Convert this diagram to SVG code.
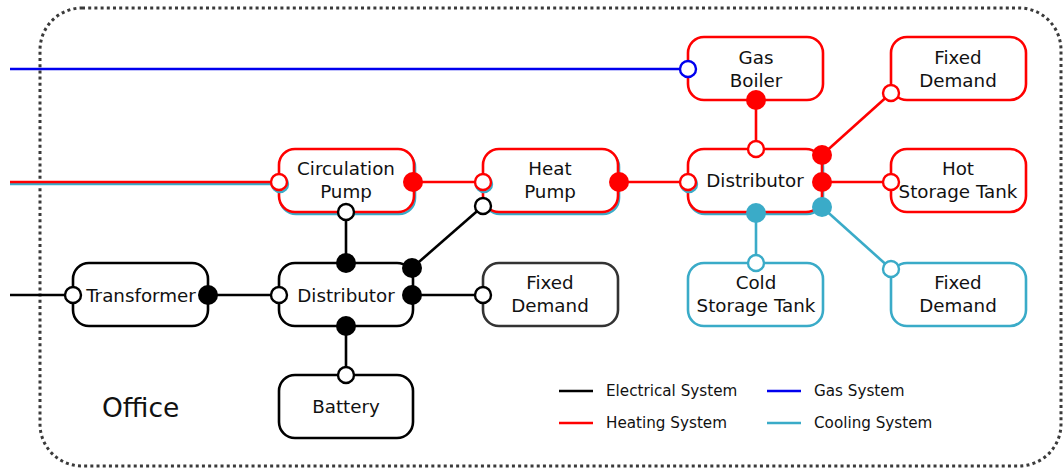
<svg xmlns="http://www.w3.org/2000/svg" width="1064" height="472" viewBox="0 0 1064 472">
<style>
.n{fill:#fff;stroke-width:2.6}
.t{font-family:"DejaVu Sans",sans-serif;font-size:18.3px;fill:#111;text-anchor:middle}
.lg{font-family:"DejaVu Sans",sans-serif;font-size:15.2px;fill:#111}
.e{stroke:#000}.h{stroke:#f00}.g{stroke:#0000ee}.c{stroke:#3aabc8}
.l{stroke-width:2.6;fill:none}
.o{fill:#fff;stroke-width:2.4}
.fe{fill:#000}.fh{fill:#f00}.fc{fill:#3aabc8}
</style>
<rect x="40" y="8" width="1021" height="458" rx="42" fill="none" stroke="#3a3a3a" stroke-width="3" stroke-dasharray="3,3.2"/>
<g id="connectors">
<line class="l g" x1="10" y1="69" x2="688" y2="69"/>
<line class="l c" x1="10" y1="184" x2="279" y2="184"/>
<line class="l h" x1="10" y1="182" x2="279" y2="182"/>
<line class="l h" x1="413" y1="182" x2="483" y2="182"/>
<line class="l h" x1="619" y1="182" x2="688" y2="182"/>
<line class="l h" x1="756" y1="100" x2="756" y2="149"/>
<line class="l h" x1="822" y1="155" x2="891" y2="93"/>
<line class="l h" x1="822" y1="182" x2="891" y2="182"/>
<line class="l c" x1="756" y1="213" x2="756" y2="263"/>
<line class="l c" x1="822" y1="207" x2="891" y2="269"/>
<line class="l e" x1="10" y1="295" x2="73" y2="295"/>
<line class="l e" x1="208" y1="295" x2="279" y2="295"/>
<line class="l e" x1="346" y1="212" x2="346" y2="263"/>
<line class="l e" x1="412" y1="268" x2="483" y2="206"/>
<line class="l e" x1="412" y1="295" x2="483" y2="295"/>
<line class="l e" x1="346" y1="326" x2="346" y2="375"/>
</g>
<g id="gas-boiler"><rect class="n h" x="688" y="37" width="135" height="63" rx="16"/><text class="t" x="756" y="64">Gas</text><text class="t" x="756" y="87">Boiler</text></g>
<g id="fixed-demand-heat"><rect class="n h" x="891" y="37" width="135" height="63" rx="16"/><text class="t" x="958" y="64">Fixed</text><text class="t" x="958" y="87">Demand</text></g>
<g id="circulation-pump"><rect class="n c" x="280" y="151" width="135" height="63" rx="16" fill="none"/><rect class="n h" x="279" y="149" width="135" height="63" rx="16"/><text class="t" x="346" y="175">Circulation</text><text class="t" x="346" y="198">Pump</text></g>
<g id="heat-pump"><rect class="n c" x="484" y="151" width="135" height="63" rx="16"/><rect class="n h" x="483" y="149" width="135" height="63" rx="16"/><text class="t" x="550" y="175">Heat</text><text class="t" x="550" y="198">Pump</text></g>
<g id="distributor-heat"><rect class="n c" x="689" y="151" width="134" height="63" rx="16"/><rect class="n h" x="688" y="149" width="134" height="63" rx="16"/><text class="t" x="755" y="187">Distributor</text></g>
<g id="hot-storage"><rect class="n h" x="891" y="149" width="135" height="63" rx="16"/><text class="t" x="958" y="175">Hot</text><text class="t" x="958" y="198">Storage Tank</text></g>
<g id="transformer"><rect class="n e" x="73" y="263" width="135" height="63" rx="16"/><text class="t" x="141" y="302">Transformer</text></g>
<g id="distributor-elec"><rect class="n e" x="279" y="263" width="134" height="63" rx="16"/><text class="t" x="346" y="302">Distributor</text></g>
<g id="fixed-demand-elec"><rect class="n" stroke="#333" x="483" y="263" width="135" height="63" rx="16"/><text class="t" x="550" y="289">Fixed</text><text class="t" x="550" y="312">Demand</text></g>
<g id="cold-storage"><rect class="n c" x="688" y="263" width="135" height="63" rx="16"/><text class="t" x="756" y="289">Cold</text><text class="t" x="756" y="312">Storage Tank</text></g>
<g id="fixed-demand-cool"><rect class="n c" x="891" y="263" width="135" height="63" rx="16"/><text class="t" x="958" y="289">Fixed</text><text class="t" x="958" y="312">Demand</text></g>
<g id="battery"><rect class="n e" x="279" y="375" width="134" height="63" rx="16"/><text class="t" x="346" y="413">Battery</text></g>
<g id="ports">
<circle class="o g" cx="688" cy="69" r="8"/>
<circle class="fh" cx="756" cy="100" r="10"/>
<circle class="o h" cx="756" cy="149" r="8"/>
<circle class="o c" cx="280" cy="184" r="8"/>
<circle class="o h" cx="279" cy="182" r="8"/>
<circle class="fh" cx="413" cy="182" r="10"/>
<circle class="o c" cx="484" cy="184" r="8"/>
<circle class="o h" cx="483" cy="182" r="8"/>
<circle class="fh" cx="619" cy="182" r="10"/>
<circle class="o c" cx="689" cy="184" r="8"/>
<circle class="o h" cx="688" cy="182" r="8"/>
<circle class="fh" cx="822" cy="155" r="10"/>
<circle class="fh" cx="822" cy="182" r="10"/>
<circle class="o h" cx="891" cy="93" r="8"/>
<circle class="o h" cx="891" cy="182" r="8"/>
<circle class="fc" cx="756" cy="213" r="10"/>
<circle class="fc" cx="822" cy="207" r="10"/>
<circle class="o c" cx="756" cy="263" r="8"/>
<circle class="o c" cx="891" cy="269" r="8"/>
<circle class="o e" cx="73" cy="295" r="8"/>
<circle class="fe" cx="208" cy="295" r="10"/>
<circle class="o e" cx="279" cy="295" r="8"/>
<circle class="o e" cx="346" cy="212" r="8"/>
<circle class="fe" cx="346" cy="263" r="10"/>
<circle class="o e" cx="483" cy="206" r="8"/>
<circle class="fe" cx="412" cy="268" r="10"/>
<circle class="fe" cx="412" cy="295" r="10"/>
<circle class="o e" cx="483" cy="295" r="8"/>
<circle class="fe" cx="346" cy="326" r="10"/>
<circle class="o e" cx="346" cy="375" r="8"/>
</g>
<text x="102" y="417" font-family="DejaVu Sans,sans-serif" font-size="26.5" fill="#111">Office</text>
<g id="legend">
<line class="l e" x1="559" y1="391" x2="593" y2="391"/><text class="lg" x="606" y="396">Electrical System</text>
<line class="l h" x1="559" y1="423" x2="593" y2="423"/><text class="lg" x="606" y="428">Heating System</text>
<line class="l g" x1="767" y1="391" x2="801" y2="391"/><text class="lg" x="814" y="396">Gas System</text>
<line class="l c" x1="767" y1="423" x2="801" y2="423"/><text class="lg" x="814" y="428">Cooling System</text>
</g>
</svg>
